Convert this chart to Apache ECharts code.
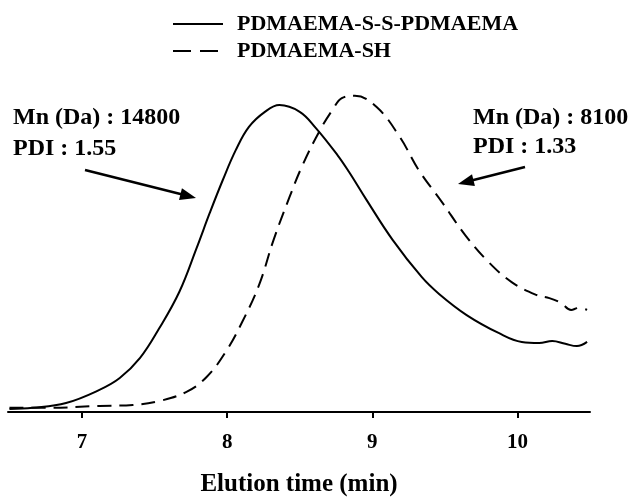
<!DOCTYPE html>
<html>
<head>
<meta charset="utf-8">
<script src="https://cdn.jsdelivr.net/npm/echarts@6/dist/echarts.min.js"></script>
<style>html,body{margin:0;padding:0;background:#fff}#c{width:634px;height:498px}</style>
</head>
<body>
<div id="c"></div>
<script>
const seriesNames = ['PDMAEMA-S-S-PDMAEMA', 'PDMAEMA-SH'];
const tickValues = [7, 8, 9, 10];
const xSolid = [6.50, 6.66, 6.89, 7.12, 7.26, 7.40, 7.53, 7.67, 7.79, 7.88, 7.97, 8.06, 8.15, 8.26, 8.36, 8.50, 8.61, 8.76, 8.84, 8.96, 9.14, 9.34, 9.46, 9.65, 9.87, 10.03, 10.15, 10.24, 10.33, 10.41, 10.48];
const ySolid = [0.9, 1.3, 2.8, 6.9, 10.6, 16.9, 26.0, 37.5, 51.3, 62.2, 72.5, 81.9, 89.1, 93.8, 95.9, 93.8, 88.8, 80.3, 75.0, 66.3, 53.8, 42.2, 36.9, 30.3, 24.7, 21.9, 21.6, 22.2, 21.3, 20.6, 21.9];
const xDashed = [6.50, 6.78, 7.12, 7.35, 7.53, 7.72, 7.86, 7.99, 8.10, 8.22, 8.32, 8.43, 8.52, 8.64, 8.73, 8.79, 8.88, 9.03, 9.19, 9.32, 9.48, 9.64, 9.80, 9.96, 10.13, 10.22, 10.30, 10.37, 10.42, 10.48];
const yDashed = [1.3, 1.3, 1.9, 2.2, 3.4, 6.3, 11.0, 18.8, 27.8, 39.7, 53.8, 67.2, 77.2, 88.1, 94.7, 98.1, 98.8, 95.3, 85.9, 75.6, 65.6, 55.3, 46.9, 40.6, 36.6, 35.6, 34.1, 31.9, 32.5, 31.9];
const annLeft = ['Mn (Da) : 14800', 'PDI : 1.55'];
const annRight = ['Mn (Da) : 8100', 'PDI : 1.33'];
const axisTitle = 'Elution time (min)';

const FONT = '"Liberation Serif", "Times New Roman", serif';

function arrow(x1, y1, x2, y2) {
  const ang = Math.atan2(y2 - y1, x2 - x1);
  const len = 16, half = 6;
  const bx = x2 - len * Math.cos(ang), by = y2 - len * Math.sin(ang);
  const px = -Math.sin(ang), py = Math.cos(ang);
  return [
    { type: 'line', shape: { x1: x1, y1: y1, x2: bx + 2 * Math.cos(ang), y2: by + 2 * Math.sin(ang) }, style: { stroke: '#000', lineWidth: 2.5 } },
    { type: 'polygon', shape: { points: [[x2, y2], [bx + px * half, by + py * half], [bx - px * half, by - py * half]] }, style: { fill: '#000' } }
  ];
}

function txt(x, y, s) {
  return { type: 'text', x: x, y: y, style: { text: s, fill: '#000', font: 'bold 24px ' + FONT, textVerticalAlign: 'middle', textAlign: 'left' } };
}

const chart = echarts.init(document.getElementById('c'));
chart.setOption({
  animation: false,
  backgroundColor: '#fff',
  grid: { left: 8, right: 44, top: 92, bottom: 86, containLabel: false, outerBoundsMode: 'none' },
  legend: {
    orient: 'vertical',
    left: 172,
    top: 13,
    padding: 0,
    itemWidth: 50,
    itemHeight: 14,
    itemGap: 5,
    itemStyle: { color: 'rgba(0,0,0,0)', borderWidth: 0, opacity: 0 },
    textStyle: { color: '#000', fontFamily: FONT, fontWeight: 'bold', fontSize: 22, lineHeight: 22, padding: [0, 0, 0, 9] },
    data: [
      { name: seriesNames[0], lineStyle: { type: 'solid', width: 2 } },
      { name: seriesNames[1], lineStyle: { type: [18, 9], width: 2 } }
    ]
  },
  xAxis: {
    type: 'value',
    min: 6.49,
    max: 10.5,
    name: axisTitle,
    nameLocation: 'middle',
    nameGap: 60,
    nameTextStyle: { color: '#000', fontFamily: FONT, fontWeight: 'bold', fontSize: 25 },
    axisLine: { onZero: false, lineStyle: { color: '#000', width: 2 } },
    axisTick: { show: true, customValues: tickValues, length: 6, lineStyle: { color: '#000', width: 2 } },
    axisLabel: { customValues: tickValues, color: '#000', fontFamily: FONT, fontWeight: 'bold', fontSize: 21, margin: 20 },
    splitLine: { show: false }
  },
  yAxis: { type: 'value', min: 0, max: 100, show: false },
  series: [
    {
      name: seriesNames[0], type: 'line', symbol: 'none', smooth: 0.4,
      lineStyle: { color: '#000', width: 2, type: 'solid' }, itemStyle: { color: '#000' },
      data: xSolid.map((x, i) => [x, ySolid[i]])
    },
    {
      name: seriesNames[1], type: 'line', symbol: 'none', smooth: 0.4,
      lineStyle: { color: '#000', width: 2, type: [14, 8] }, itemStyle: { color: '#000' },
      data: xDashed.map((x, i) => [x, yDashed[i]])
    }
  ],
  graphic: [
    txt(13, 118, annLeft[0]), txt(13, 149, annLeft[1]),
    txt(473, 118, annRight[0]), txt(473, 147, annRight[1])
  ].concat(arrow(85, 170, 196, 198), arrow(525, 167, 458, 184))
});
</script>
</body>
</html>
